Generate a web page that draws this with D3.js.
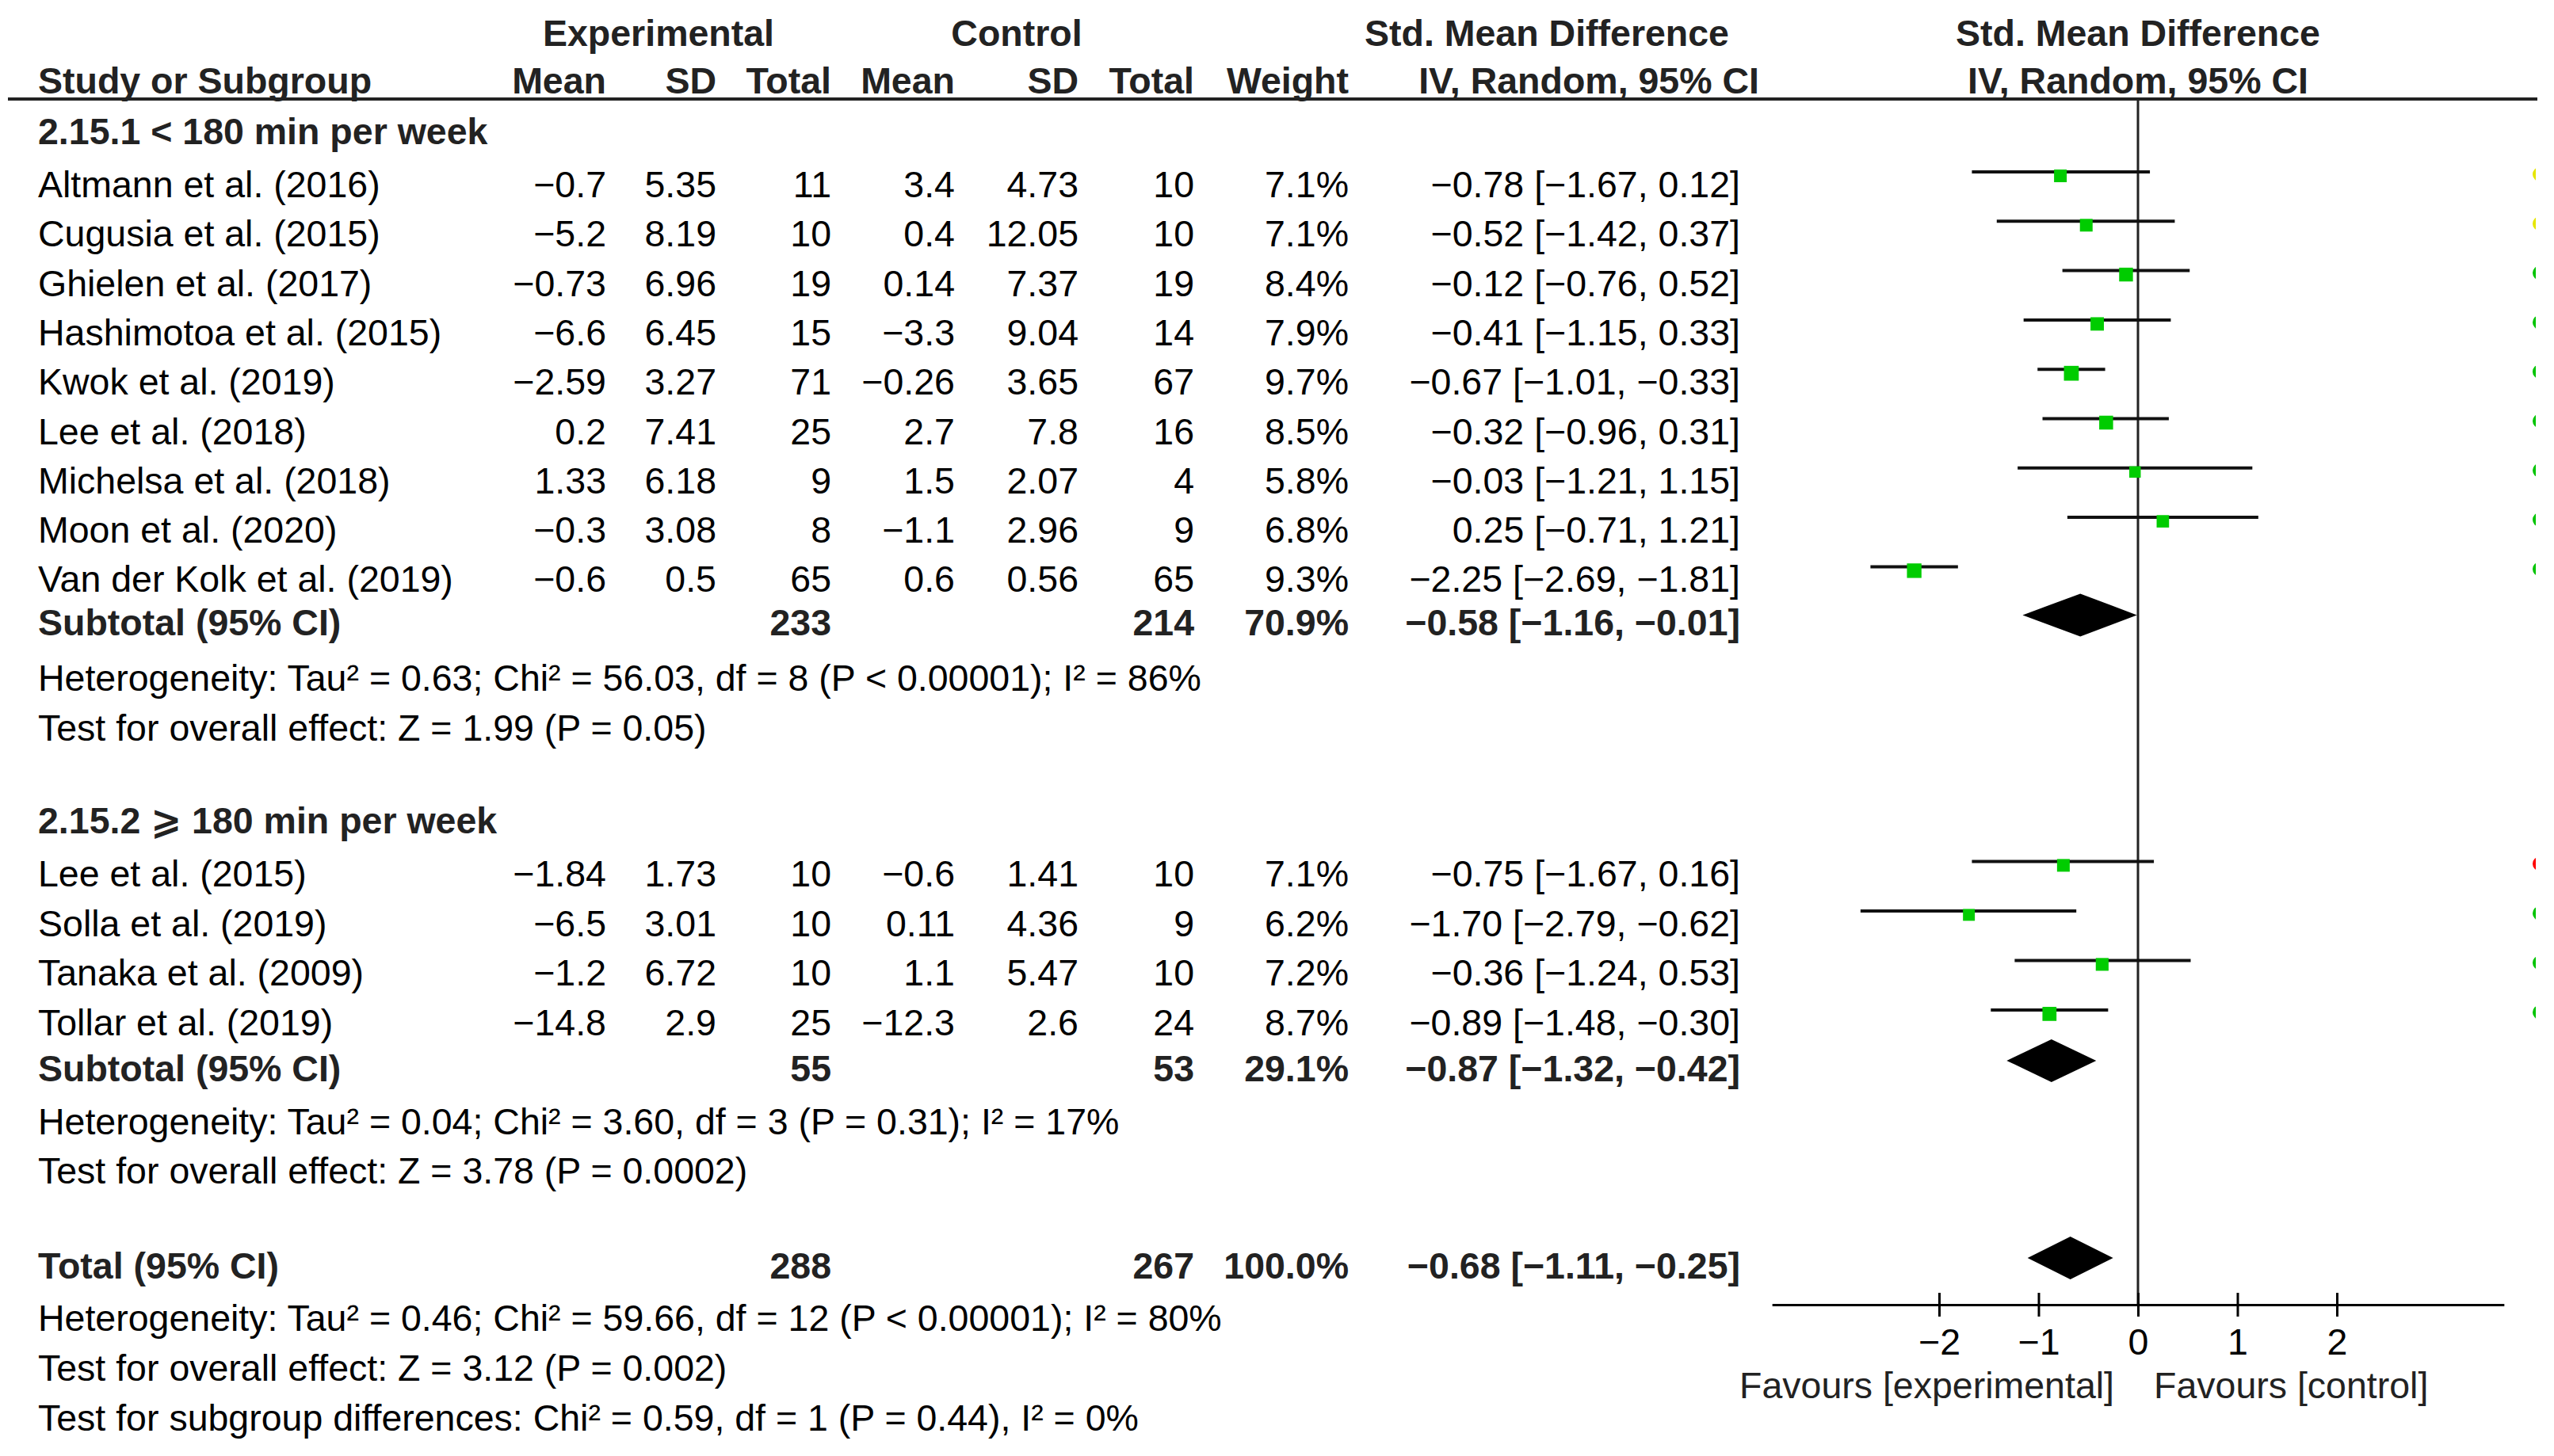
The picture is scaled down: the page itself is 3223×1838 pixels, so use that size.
<!DOCTYPE html>
<html>
<head>
<meta charset="utf-8">
<script src="https://cdn.jsdelivr.net/npm/d3@7"></script>
<style>
  body { margin: 0; background: #fff; }
  text { font-family: "Liberation Sans", Arial, "DejaVu Sans", sans-serif; }
</style>
</head>
<body>
<svg id="chart"></svg>
<script>
// ---- data ----
var group1Label = "2.15.1 < 180 min per week";
var group2Label = "2.15.2 \u2A7E 180 min per week";

var studies1 = ["Altmann et al. (2016)", "Cugusia et al. (2015)", "Ghielen et al. (2017)",
  "Hashimotoa et al. (2015)", "Kwok et al. (2019)", "Lee et al. (2018)",
  "Michelsa et al. (2018)", "Moon et al. (2020)", "Van der Kolk et al. (2019)"];
var expMean1 = [-0.7, -5.2, -0.73, -6.6, -2.59, 0.2, 1.33, -0.3, -0.6];
var expSD1 = [5.35, 8.19, 6.96, 6.45, 3.27, 7.41, 6.18, 3.08, 0.5];
var expN1 = [11, 10, 19, 15, 71, 25, 9, 8, 65];
var ctlMean1 = [3.4, 0.4, 0.14, -3.3, -0.26, 2.7, 1.5, -1.1, 0.6];
var ctlSD1 = [4.73, 12.05, 7.37, 9.04, 3.65, 7.8, 2.07, 2.96, 0.56];
var ctlN1 = [10, 10, 19, 14, 67, 16, 4, 9, 65];
var weight1 = [7.1, 7.1, 8.4, 7.9, 9.7, 8.5, 5.8, 6.8, 9.3];
var smd1 = [-0.78, -0.52, -0.12, -0.41, -0.67, -0.32, -0.03, 0.25, -2.25];
var lo1 = [-1.67, -1.42, -0.76, -1.15, -1.01, -0.96, -1.21, -0.71, -2.69];
var hi1 = [0.12, 0.37, 0.52, 0.33, -0.33, 0.31, 1.15, 1.21, -1.81];
var bias1 = ["yellow", "yellow", "green", "green", "green", "green", "green", "green", "green"];

var studies2 = ["Lee et al. (2015)", "Solla et al. (2019)", "Tanaka et al. (2009)", "Tollar et al. (2019)"];
var expMean2 = [-1.84, -6.5, -1.2, -14.8];
var expSD2 = [1.73, 3.01, 6.72, 2.9];
var expN2 = [10, 10, 10, 25];
var ctlMean2 = [-0.6, 0.11, 1.1, -12.3];
var ctlSD2 = [1.41, 4.36, 5.47, 2.6];
var ctlN2 = [10, 9, 10, 24];
var weight2 = [7.1, 6.2, 7.2, 8.7];
var smd2 = [-0.75, -1.70, -0.36, -0.89];
var lo2 = [-1.67, -2.79, -1.24, -1.48];
var hi2 = [0.16, -0.62, 0.53, -0.30];
var bias2 = ["red", "green", "green", "green"];

// subtotal 1, subtotal 2, total
var pooledExpN = [233, 55, 288];
var pooledCtlN = [214, 53, 267];
var pooledWeight = [70.9, 29.1, 100.0];
var pooledSmd = [-0.58, -0.87, -0.68];
var pooledLo = [-1.16, -1.32, -1.11];
var pooledHi = [-0.01, -0.42, -0.25];

var het1 = "Heterogeneity: Tau\u00B2 = 0.63; Chi\u00B2 = 56.03, df = 8 (P < 0.00001); I\u00B2 = 86%";
var eff1 = "Test for overall effect: Z = 1.99 (P = 0.05)";
var het2 = "Heterogeneity: Tau\u00B2 = 0.04; Chi\u00B2 = 3.60, df = 3 (P = 0.31); I\u00B2 = 17%";
var eff2 = "Test for overall effect: Z = 3.78 (P = 0.0002)";
var hetAll = "Heterogeneity: Tau\u00B2 = 0.46; Chi\u00B2 = 59.66, df = 12 (P < 0.00001); I\u00B2 = 80%";
var effAll = "Test for overall effect: Z = 3.12 (P = 0.002)";
var subDiff = "Test for subgroup differences: Chi\u00B2 = 0.59, df = 1 (P = 0.44), I\u00B2 = 0%";

var axisTicks = [-2, -1, 0, 1, 2];
var favoursLeft = "Favours [experimental]";
var favoursRight = "Favours [control]";

// ---- layout ----
var width = 3223, height = 1838;
var fs = 46.5;
var biasColor = { yellow: "#e6e600", green: "#00c400", red: "#ff0000" };
var col = { name: 48, eMean: 765, eSD: 904, eN: 1049, cMean: 1205, cSD: 1361, cN: 1507, wt: 1702, ci: 2196 };
var headerY = 125, axisY = 1647, clipX = 3200;
var zeroX = 2698, unit = 125.5;

var x = d3.scaleLinear().domain([-3.68, 3.68]).range([zeroX - 3.68 * unit, zeroX + 3.68 * unit]);
var boxSize = d3.scaleSqrt().domain([0, 10]).range([0, 19]);

var minus = function (v) { return String(v).replace("-", "\u2212"); };
var f2 = function (v) { return minus(v.toFixed(2)); };
var ciText = function (m, l, h) { return f2(m) + " [" + f2(l) + ", " + f2(h) + "]"; };

function studyRows(names, em, es, en, cm, cs, cn, w, s, l, h, b) {
  return names.map(function (n, i) {
    return { type: "study", name: n, em: em[i], es: es[i], en: en[i], cm: cm[i], cs: cs[i], cn: cn[i],
      w: w[i], smd: s[i], lo: l[i], hi: h[i], bias: b[i] };
  });
}
function pooledRow(label, k) {
  return { type: "pooled", name: label, en: pooledExpN[k], cn: pooledCtlN[k], w: pooledWeight[k],
    smd: pooledSmd[k], lo: pooledLo[k], hi: pooledHi[k] };
}

var rows = [];
var yb = headerY;
function add(row, gap) { yb += gap; row.y = yb; rows.push(row); }

add({ type: "heading", name: group1Label }, 57);
studyRows(studies1, expMean1, expSD1, expN1, ctlMean1, ctlSD1, ctlN1, weight1, smd1, lo1, hi1, bias1)
  .forEach(function (r, i) { add(r, i === 0 ? 67 : 62.3); });
add(pooledRow("Subtotal (95% CI)", 0), 55);
add({ type: "note", name: het1 }, 70);
add({ type: "note", name: eff1 }, 63);
add({ type: "heading", name: group2Label }, 117);
studyRows(studies2, expMean2, expSD2, expN2, ctlMean2, ctlSD2, ctlN2, weight2, smd2, lo2, hi2, bias2)
  .forEach(function (r, i) { add(r, i === 0 ? 67 : 62.5); });
add(pooledRow("Subtotal (95% CI)", 1), 58);
add({ type: "note", name: het2 }, 67);
add({ type: "note", name: eff2 }, 62);
add(pooledRow("Total (95% CI)", 2), 120);
add({ type: "note", name: hetAll }, 66);
add({ type: "note", name: effAll }, 63);
add({ type: "note", name: subDiff }, 63);

// ---- drawing ----
var svg = d3.select("#chart").attr("width", width).attr("height", height)
  .style("background", "#fff");

svg.append("defs").append("clipPath").attr("id", "edge")
  .append("rect").attr("x", 0).attr("y", 0).attr("width", clipX).attr("height", height);

function txt(g, s, xx, yy, anchor, bold) {
  return g.append("text").attr("x", xx).attr("y", yy)
    .attr("text-anchor", anchor || "start")
    .attr("font-size", fs)
    .attr("font-weight", bold ? "bold" : "normal")
    .attr("fill", bold ? "#222" : "#000")
    .text(s);
}

// column headers
var head = svg.append("g");
txt(head, "Experimental", 831, 58, "middle", true);
txt(head, "Control", 1283, 58, "middle", true);
txt(head, "Std. Mean Difference", 1952, 58, "middle", true);
txt(head, "Std. Mean Difference", x(0), 58, "middle", true);
txt(head, "Study or Subgroup", col.name, 118, "start", true);
txt(head, "Mean", col.eMean, 118, "end", true);
txt(head, "SD", col.eSD, 118, "end", true);
txt(head, "Total", col.eN, 118, "end", true);
txt(head, "Mean", col.cMean, 118, "end", true);
txt(head, "SD", col.cSD, 118, "end", true);
txt(head, "Total", col.cN, 118, "end", true);
txt(head, "Weight", col.wt, 118, "end", true);
txt(head, "IV, Random, 95% CI", col.ci + 24, 118, "end", true);
txt(head, "IV, Random, 95% CI", x(0), 118, "middle", true);

// table body
var body = svg.append("g");
rows.forEach(function (r) {
  if (r.type === "heading") {
    txt(body, r.name, col.name, r.y, "start", true);
  } else if (r.type === "note") {
    txt(body, r.name, col.name, r.y, "start", false);
  } else if (r.type === "study") {
    txt(body, r.name, col.name, r.y);
    txt(body, minus(r.em), col.eMean, r.y, "end");
    txt(body, minus(r.es), col.eSD, r.y, "end");
    txt(body, r.en, col.eN, r.y, "end");
    txt(body, minus(r.cm), col.cMean, r.y, "end");
    txt(body, minus(r.cs), col.cSD, r.y, "end");
    txt(body, r.cn, col.cN, r.y, "end");
    txt(body, r.w.toFixed(1) + "%", col.wt, r.y, "end");
    txt(body, ciText(r.smd, r.lo, r.hi), col.ci, r.y, "end");
  } else {
    txt(body, r.name, col.name, r.y, "start", true);
    txt(body, r.en, col.eN, r.y, "end", true);
    txt(body, r.cn, col.cN, r.y, "end", true);
    txt(body, r.w.toFixed(1) + "%", col.wt, r.y, "end", true);
    txt(body, ciText(r.smd, r.lo, r.hi), col.ci, r.y, "end", true);
  }
});

// header rule
svg.append("line").attr("x1", 10).attr("x2", clipX + 2).attr("y1", headerY).attr("y2", headerY)
  .attr("stroke", "#222").attr("stroke-width", 4);

// line of no effect
svg.append("line").attr("x1", x(0)).attr("x2", x(0)).attr("y1", headerY).attr("y2", axisY)
  .attr("stroke", "#222").attr("stroke-width", 3);

// axis
var axis = svg.append("g").attr("transform", "translate(0," + axisY + ")")
  .call(d3.axisBottom(x).tickValues(axisTicks).tickSizeOuter(0)
    .tickFormat(function (d) { return minus(d); }));
axis.select(".domain").attr("stroke", "#000").attr("stroke-width", 3);
axis.selectAll(".tick line").attr("y1", -15).attr("y2", 15).attr("stroke", "#000").attr("stroke-width", 3);
axis.selectAll(".tick text").attr("y", 63).attr("dy", 0)
  .attr("font-size", fs).attr("fill", "#000")
  .attr("font-family", "'Liberation Sans', Arial, sans-serif");

txt(svg, favoursLeft, x(0) - 30, 1765, "end").attr("fill", "#222");
txt(svg, favoursRight, x(0) + 20, 1765, "start").attr("fill", "#222");

// forest marks
var plot = svg.append("g");
var st = rows.filter(function (r) { return r.type === "study"; });
var pooled = rows.filter(function (r) { return r.type === "pooled"; });

plot.selectAll(".ci").data(st).enter().append("line")
  .attr("class", "ci")
  .attr("x1", function (d) { return x(d.lo); })
  .attr("x2", function (d) { return x(d.hi); })
  .attr("y1", function (d) { return d.y - 32; })
  .attr("y2", function (d) { return d.y - 32; })
  .attr("stroke", "#111").attr("stroke-width", 4);

plot.selectAll(".box").data(st).enter().append("rect")
  .attr("class", "box")
  .attr("x", function (d) { return x(d.smd) - boxSize(d.w) / 2; })
  .attr("y", function (d) { return d.y - 27 - boxSize(d.w) / 2; })
  .attr("width", function (d) { return boxSize(d.w); })
  .attr("height", function (d) { return boxSize(d.w); })
  .attr("fill", "#00cc00");

plot.selectAll(".diamond").data(pooled).enter().append("path")
  .attr("class", "diamond")
  .attr("d", function (d) {
    var c = d.y - 26;
    return "M" + x(d.lo) + "," + c + "L" + x(d.smd) + "," + (c - 27) +
      "L" + x(d.hi) + "," + c + "L" + x(d.smd) + "," + (c + 27) + "Z";
  })
  .attr("fill", "#000");

// risk-of-bias dots, cut off at the right edge
svg.append("g").attr("clip-path", "url(#edge)")
  .selectAll("circle").data(st).enter().append("circle")
  .attr("cx", clipX + 9 - 4)
  .attr("cy", function (d) { return d.y - 29; })
  .attr("r", 9)
  .attr("fill", function (d) { return biasColor[d.bias]; });
</script>
</body>
</html>
